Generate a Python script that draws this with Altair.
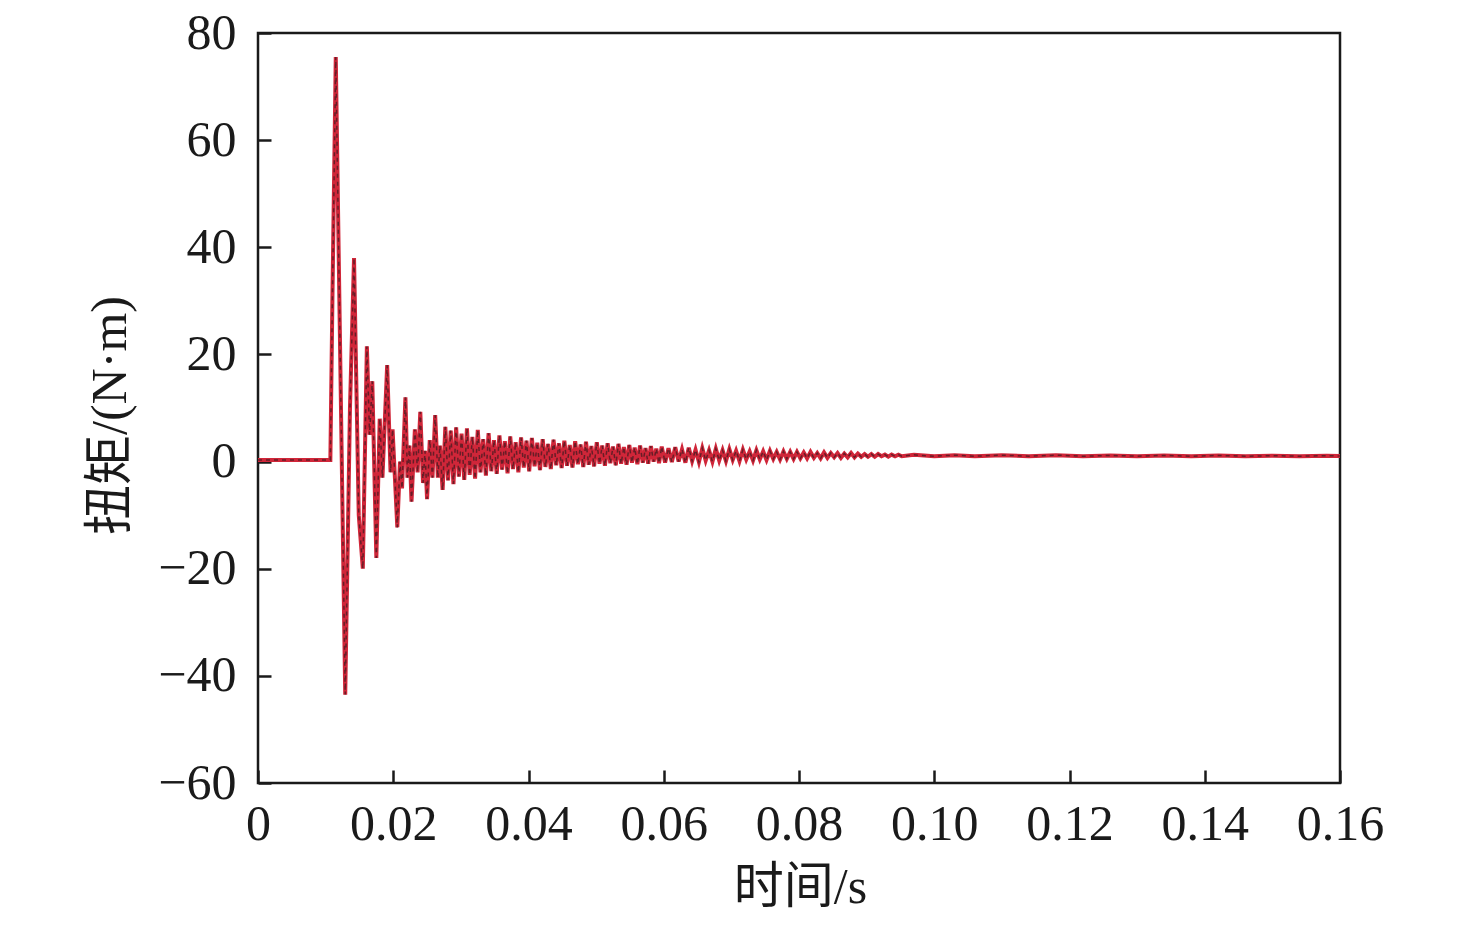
import altair as alt
import pandas as pd

# ---- data ----
# early transient (flat, impact, large damped swings)
t_early = [0.0, 0.0107, 0.0110, 0.0115, 0.0129, 0.0136, 0.0142, 0.0149, 0.0155, 0.0161,
           0.0165, 0.0169, 0.0175, 0.0180, 0.0184, 0.0191, 0.0196, 0.0199, 0.0206, 0.0210,
           0.0213, 0.0218, 0.0221, 0.0224, 0.0227, 0.0232, 0.0236, 0.0240, 0.0244, 0.0247,
           0.0250, 0.0254, 0.0258, 0.0262, 0.0266, 0.0269, 0.0273]
v_early = [0.3, 0.3, 30.0, 75.5, -43.5, 10.0, 38.0, -10.0, -20.0, 21.5,
           5.0, 15.0, -18.0, 8.0, -3.0, 18.0, -2.0, 6.0, -12.3, 0.0,
           -5.0, 12.0, -3.0, 3.0, -7.5, 6.0, -2.0, 9.3, -4.0, 2.0,
           -7.0, 4.0, -3.0, 8.7, -3.0, 3.0, -5.3]

# dense high-frequency ringing, part 1
t_ring1 = [0.0277, 0.0281, 0.0285, 0.0289, 0.0293, 0.0297, 0.0301, 0.0305, 0.0309, 0.0313,
           0.0317, 0.0321, 0.0325, 0.0329, 0.0333, 0.0337, 0.0341, 0.0345, 0.0349, 0.0353,
           0.0357, 0.0361, 0.0365, 0.0369, 0.0373, 0.0377, 0.0381, 0.0385, 0.0389, 0.0393,
           0.0397, 0.0401, 0.0405, 0.0409, 0.0413, 0.0417, 0.0421, 0.0425, 0.0429, 0.0433,
           0.0437, 0.0441, 0.0445, 0.0449, 0.0453, 0.0457, 0.0461, 0.0465, 0.0469, 0.0473,
           0.0477, 0.0481, 0.0485, 0.0489, 0.0493, 0.0497, 0.0501, 0.0505, 0.0509, 0.0513,
           0.0517, 0.0521, 0.0525, 0.0529, 0.0533, 0.0537, 0.0541, 0.0545, 0.0549, 0.0553,
           0.0557, 0.0561, 0.0565, 0.0569, 0.0573, 0.0577, 0.0581, 0.0585, 0.0589, 0.0593,
           0.0597]
v_ring1 = [6.5, -3.5, 5.8, -4.2, 6.4, -2.8, 5.2, -3.4, 6.2, -2.5,
           4.6, -3.2, 5.9, -2.0, 4.2, -2.6, 5.3, -1.8, 4.0, -2.3,
           4.9, -1.5, 3.8, -2.2, 4.7, -1.4, 3.6, -2.0, 4.5, -1.1,
           3.9, -1.8, 4.4, -0.9, 3.5, -1.6, 4.2, -1.0, 3.3, -1.4,
           4.1, -0.7, 3.4, -1.2, 3.9, -0.8, 3.1, -1.1, 3.8, -0.5,
           3.2, -1.0, 3.7, -0.6, 2.9, -0.9, 3.6, -0.4, 3.0, -0.8,
           3.4, -0.3, 2.8, -0.7, 3.3, -0.4, 2.7, -0.6, 3.1, -0.2,
           2.6, -0.5, 3.0, -0.2, 2.5, -0.4, 2.9, 0.0, 2.4, -0.3,
           2.8]

# dense high-frequency ringing, part 2
t_ring2 = [0.0602, 0.0607, 0.0612, 0.0617, 0.0622, 0.0627, 0.0632, 0.0637, 0.0642, 0.0647,
           0.0652, 0.0657, 0.0662, 0.0667, 0.0672, 0.0677, 0.0682, 0.0687, 0.0692, 0.0697,
           0.0702, 0.0707, 0.0712, 0.0717, 0.0722, 0.0727, 0.0732, 0.0737, 0.0742, 0.0747,
           0.0752, 0.0757, 0.0762, 0.0767, 0.0772, 0.0777, 0.0782, 0.0787, 0.0792, 0.0797,
           0.0802, 0.0807, 0.0812, 0.0817, 0.0822, 0.0827, 0.0832, 0.0837, 0.0842, 0.0847,
           0.0852, 0.0857, 0.0862, 0.0867, 0.0872, 0.0877, 0.0882, 0.0887, 0.0892, 0.0897,
           0.0902, 0.0907, 0.0912, 0.0917, 0.0922, 0.0927, 0.0932, 0.0937, 0.0942, 0.0947,
           0.0952]
v_ring2 = [-0.2, 2.5, -0.1, 2.7, 0.0, 2.3, -0.2, 2.6, 0.1, 2.2,
           -0.1, 2.5, 0.2, 2.1, 0.0, 2.4, 0.2, 2.1, 0.1, 2.3,
           0.3, 2.0, 0.1, 2.2, 0.4, 1.9, 0.2, 2.1, 0.4, 1.9,
           0.3, 2.0, 0.5, 1.8, 0.4, 1.9, 0.5, 1.8, 0.5, 1.8,
           0.6, 1.7, 0.6, 1.8, 0.7, 1.6, 0.6, 1.7, 0.7, 1.6,
           0.8, 1.6, 0.7, 1.5, 0.8, 1.6, 0.8, 1.5, 0.9, 1.4,
           0.9, 1.4, 0.9, 1.4, 1.0, 1.3, 0.9, 1.3, 1.0, 1.3,
           1.0]

# settled tail
t_tail = [0.097, 0.100, 0.103, 0.106, 0.110, 0.114, 0.118, 0.122, 0.126, 0.130,
          0.134, 0.138, 0.142, 0.146, 0.150, 0.154, 0.158, 0.160]
v_tail = [1.25, 1.0, 1.2, 1.0, 1.2, 1.0, 1.2, 1.0, 1.15, 1.0,
          1.15, 1.0, 1.15, 1.0, 1.1, 1.0, 1.1, 1.05]

x_ticks = [0, 0.02, 0.04, 0.06, 0.08, 0.10, 0.12, 0.14, 0.16]
y_ticks = [-60, -40, -20, 0, 20, 40, 60, 80]

t_all = t_early + t_ring1 + t_ring2 + t_tail
v_all = v_early + v_ring1 + v_ring2 + v_tail
df = pd.DataFrame({"t": t_all, "v": v_all, "i": list(range(len(t_all)))})

FONT = "Liberation Serif, Noto Sans CJK SC"

x_enc = alt.X("t:Q", scale=alt.Scale(domain=[0, 0.16], nice=False, zero=False),
              axis=alt.Axis(values=x_ticks, title="时间/s",
                            labelExpr="datum.value == 0 ? '0' : format(datum.value, '.2f')",
                            labelFlush=False, labelOverlap=False,
                            tickSize=alt.ExprRef("-13"), labelPadding=29,
                            titleX=542, titleY=104, titleBaseline="middle", titleAlign="center"))
y_enc = alt.Y("v:Q", scale=alt.Scale(domain=[-60, 80], nice=False, zero=False),
              axis=alt.Axis(values=y_ticks, title="扭矩/(N·m)",
                            labelFlush=False, labelOverlap=False,
                            tickSize=alt.ExprRef("-13"), labelPadding=35,
                            titleX=-148, titleY=382, titleAngle=270,
                            titleBaseline="middle", titleAlign="center"))

base = alt.Chart(df)
red = base.mark_line(color="#d02639", strokeWidth=4.0, interpolate="linear").encode(
    x=x_enc, y=y_enc, order="i:Q")
dark = base.mark_line(color="#3a1a20", strokeWidth=1.5, opacity=0.7,
                      strokeDash=[4, 4]).encode(x="t:Q", y="v:Q", order="i:Q")

chart = (red + dark).properties(
    width=1082, height=750,
    background="white",
    autosize=alt.AutoSizeParams(type="none"),
    padding={"left": 250, "top": 25, "right": 100, "bottom": 132},
).configure_view(stroke="#1a1a1a", strokeWidth=2.5).configure_axis(
    grid=False, domain=False, ticks=True, tickColor="#1a1a1a", tickWidth=2.5,
    labelFont=FONT, titleFont=FONT, labelFontSize=50, titleFontSize=50,
    labelColor="#1a1a1a", titleColor="#1a1a1a", titleFontWeight="normal",
)

chart.save("out.html", embed_options={"renderer": "svg", "actions": False})
